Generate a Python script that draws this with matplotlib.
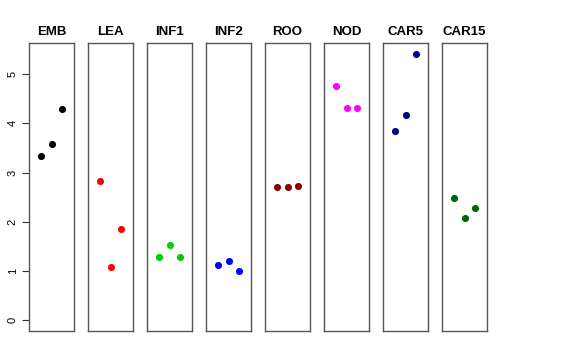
import numpy as np
import matplotlib
matplotlib.use("Agg")
import matplotlib.pyplot as plt

plt.rcParams['font.family'] = ['Liberation Sans', 'DejaVu Sans']

groups = ["EMB", "LEA", "INF1", "INF2", "ROO", "NOD", "CAR5", "CAR15"]
colors = ["black", "red", "#00cd00", "blue", "#8b0000", "magenta", "#00008b", "#006400"]
values = [
    [3.33, 3.58, 4.30],
    [2.82, 1.08, 1.86],
    [1.28, 1.52, 1.28],
    [1.12, 1.20, 1.00],
    [2.70, 2.70, 2.72],
    [4.76, 4.31, 4.31],
    [3.85, 4.18, 5.41],
    [2.49, 2.07, 2.28],
]

W, H = 576, 360
fig = plt.figure(figsize=(W / 100, H / 100), dpi=100)

ymax = max(max(v) for v in values)
ypad = 0.04 * ymax
left0, width, step = 29, 45, 59
top, bottom = 43.3, 331

for i, (g, c, v) in enumerate(zip(groups, colors, values)):
    ax = fig.add_axes([(left0 + i * step) / W, 1 - bottom / H, width / W, (bottom - top) / H])
    x = np.arange(1, len(v) + 1)
    ax.scatter(x, v, s=26, color=c, zorder=3, linewidths=0)
    ax.set_xlim(-0.16, 4.16)
    ax.set_ylim(-ypad, ymax + ypad)
    ax.set_xticks([])
    for s in ax.spines.values():
        s.set_color('#555555')
        s.set_linewidth(1.0)
    ax.set_title(g, fontsize=9.5, fontweight='bold', pad=6)
    if i == 0:
        ax.set_yticks([0, 1, 2, 3, 4, 5])
        ax.tick_params(axis='y', labelsize=8, length=5, width=0.8, color='#333333', pad=3)
        for lab in ax.get_yticklabels():
            lab.set_rotation(90)
            lab.set_va('center')
    else:
        ax.set_yticks([])

fig.savefig("out.png", dpi=100)
